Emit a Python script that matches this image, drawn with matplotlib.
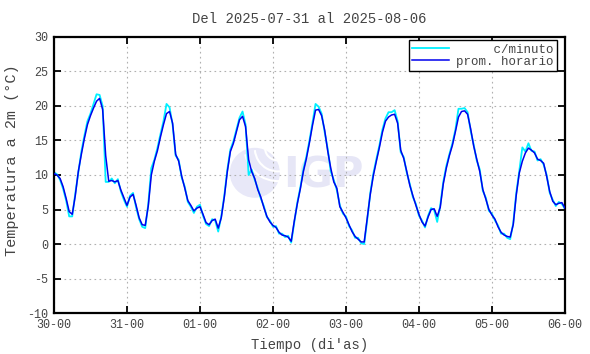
import matplotlib
matplotlib.use("Agg")
import matplotlib.pyplot as plt
import numpy as np
from matplotlib.patches import Ellipse, Arc

plt.rcParams['axes.unicode_minus'] = False
plt.rcParams['font.family'] = ['Liberation Mono', 'DejaVu Sans Mono']

# hourly mean temperature (deg C), hour 0 = 30-00 ... hour 168 = 06-00
horario = [10.2, 10.0, 9.5, 8.3, 6.6, 4.7, 4.3, 7.0, 10.5, 13.0, 15.3, 17.3, 18.6, 19.7, 20.7, 21.1,
           19.5, 12.8, 9.1, 9.2, 9.0, 9.2, 7.8, 6.7,
           5.6, 6.8, 7.2, 5.6, 3.8, 2.8, 2.7, 5.5, 10.0, 12.0, 13.5, 15.5, 17.3, 18.9, 19.2, 17.5,
           13.0, 12.0, 9.8, 8.1, 6.3, 5.6, 4.8, 5.2,
           5.4, 4.3, 3.1, 2.8, 3.4, 3.6, 2.3, 3.8, 6.8, 10.5, 13.4, 14.6, 16.3, 18.0, 18.5, 17.0,
           12.2, 10.5, 9.5, 7.9, 6.8, 5.3, 4.0, 3.2,
           2.7, 2.4, 1.7, 1.3, 1.2, 1.0, 0.4, 3.3, 5.8, 8.0, 10.5, 12.4, 14.7, 17.2, 19.4, 19.5,
           18.6, 16.5, 13.5, 11.0, 9.0, 8.1, 5.4, 4.6,
           3.8, 2.8, 1.8, 1.1, 0.7, 0.3, 0.3, 3.7, 7.2, 9.9, 12.0, 14.0, 16.2, 17.8, 18.4, 18.7,
           18.8, 17.5, 13.6, 12.4, 10.5, 8.5, 7.0, 5.6,
           4.3, 3.2, 2.6, 3.9, 5.0, 5.1, 4.0, 5.3, 8.7, 11.0, 12.8, 14.3, 16.3, 18.4, 19.2, 19.3,
           18.8, 16.7, 14.2, 12.3, 10.5, 7.9, 6.5, 5.0,
           4.2, 3.6, 2.5, 1.7, 1.3, 1.1, 1.0, 2.8, 7.1, 10.3, 12.0, 13.2, 13.9, 13.6, 13.2, 12.3,
           12.1, 11.7, 9.8, 7.6, 6.2, 5.7, 5.9, 6.0,
           5.2]

minuto = [10.4, 10.1, 9.3, 8.0, 6.3, 4.0, 4.0, 7.3, 10.3, 13.4, 15.7, 17.8, 18.9, 20.3, 21.7, 21.6,
          20.0, 9.0, 9.0, 9.5, 8.8, 9.4, 7.6, 6.4,
          5.4, 7.0, 7.4, 5.3, 3.6, 2.5, 2.3, 5.8, 11.0, 12.2, 13.9, 15.9, 17.8, 20.3, 19.8, 17.3,
          12.8, 12.2, 9.6, 8.3, 6.1, 5.4, 4.5, 5.4,
          5.7, 4.1, 2.9, 2.6, 3.6, 3.4, 1.8, 4.0, 7.0, 10.8, 13.7, 14.9, 16.6, 18.3, 19.2, 17.3,
          10.0, 10.8, 9.3, 8.1, 6.6, 5.5, 3.9, 3.4,
          2.5, 2.6, 1.5, 1.5, 1.0, 1.2, 0.2, 3.1, 6.0, 8.2, 10.8, 12.7, 15.0, 17.6, 20.3, 19.9,
          18.9, 16.2, 13.8, 10.5, 9.3, 7.8, 5.6, 4.4,
          4.0, 2.6, 2.0, 0.9, 0.9, 0.1, 0.0, 3.5, 7.4, 10.2, 12.3, 14.3, 16.6, 18.2, 19.1, 19.1,
          19.4, 17.8, 13.3, 12.6, 10.3, 8.7, 6.8, 5.8,
          4.1, 3.4, 2.4, 4.1, 5.2, 4.9, 3.2, 5.6, 9.0, 11.3, 13.0, 14.6, 16.6, 19.6, 19.6, 19.7,
          19.1, 16.4, 14.4, 12.1, 10.8, 7.7, 6.7, 4.8,
          4.4, 3.4, 2.7, 1.5, 1.5, 0.9, 0.7, 3.0, 7.4, 10.6, 14.0, 13.4, 14.6, 13.5, 13.4, 12.1,
          12.3, 11.5, 10.0, 7.4, 6.4, 5.5, 6.1, 5.8,
          5.1]

horas = np.arange(len(horario))
tick_labels = ['30-00', '31-00', '01-00', '02-00', '03-00', '04-00', '05-00', '06-00']

fig = plt.figure(figsize=(5.9, 3.54), dpi=100)
ax = fig.add_axes([0.0915, 0.1158, 0.866, 0.7797])

# IGP watermark
cx, cy = 0.393, 0.508
ax.add_patch(Ellipse((cx, cy), 0.098, 0.181, transform=ax.transAxes, facecolor='#e8e8f8',
                     edgecolor='none', zorder=0))
for w, h, a1, a2 in [(0.13, 0.24, 200, 280), (0.09, 0.17, 190, 285), (0.05, 0.09, 180, 290)]:
    ax.add_patch(Arc((cx + 0.045, cy + 0.09), w, h, transform=ax.transAxes, theta1=a1,
                     theta2=a2, color='white', lw=1.5, zorder=0))
ax.text(0.448, 0.455, 'IGP', transform=ax.transAxes, fontsize=30, fontweight='bold',
        family='DejaVu Sans', color='#e6e6f6', va='baseline', ha='left', zorder=0)

ax.plot(horas, minuto, color='#00f0ff', lw=1.3, label='     c/minuto', zorder=2)
ax.plot(horas, horario, color='#0000ee', lw=1.1, label='prom. horario', zorder=3)

ax.set_xlim(0, 168)
ax.set_ylim(-10, 30)
ax.set_xticks(np.arange(0, 169, 24))
ax.set_xticklabels(tick_labels)
ax.set_yticks(np.arange(-10, 31, 5))

ax.grid(True, color='#b0b0b0', linestyle=(0, (1.5, 3)), linewidth=0.8)
ax.tick_params(direction='in', length=5, width=1.3, top=True, right=True,
               labelsize=8.5, labelcolor='#444444', pad=4)
for s in ax.spines.values():
    s.set_linewidth(1.6)

ax.set_title('Del 2025-07-31 al 2025-08-06', fontsize=10, color='#444444', pad=10)
ax.set_xlabel('Tiempo (di\'as)', fontsize=10, color='#444444', labelpad=5)
ax.set_ylabel('Temperatura a 2m (°C)', fontsize=11, color='#444444')
ax.yaxis.set_label_coords(-0.068, 0.555)

leg = ax.legend(loc='upper right', bbox_to_anchor=(0.985, 0.99), borderaxespad=0,
                fontsize=9, handlelength=2.9, handletextpad=0.6, borderpad=0.3,
                labelspacing=0.0, fancybox=False, framealpha=1, edgecolor='black')
leg.get_frame().set_linewidth(1.0)
for t in leg.get_texts():
    t.set_color('#444444')

fig.savefig('out.png', dpi=100)
